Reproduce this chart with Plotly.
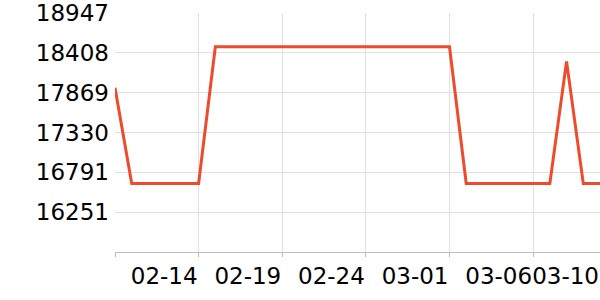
import plotly.graph_objects as go
import pandas as pd

dates = pd.date_range("2023-02-09", "2023-03-10", freq="D").strftime("%Y-%m-%d").tolist()
values = [17936,
          16639, 16639, 16639, 16639, 16639,
          18492, 18492, 18492, 18492, 18492, 18492, 18492, 18492,
          18492, 18492, 18492, 18492, 18492, 18492, 18492,
          16639, 16639, 16639, 16639, 16639, 16639,
          18292,
          16639, 16639]

x_tickvals = ["2023-02-09", "2023-02-14", "2023-02-19", "2023-02-24", "2023-03-01", "2023-03-06", "2023-03-10"]
x_ticktext = ["", "02-14", "02-19", "02-24", "03-01", "03-06", "03-10"]
y_tickvals = [15712, 16251, 16791, 17330, 17869, 18408, 18947]
y_ticktext = ["", "16251", "16791", "17330", "17869", "18408", "18947"]

fig = go.Figure()
fig.add_trace(go.Scatter(
    x=dates, y=values, mode="lines",
    line=dict(color="#ee4b2d", width=3),
    hoverinfo="skip",
))

fig.update_layout(
    width=600, height=300,
    margin=dict(l=115, r=0, t=10, b=48),
    paper_bgcolor="white", plot_bgcolor="white",
    showlegend=False,
    font=dict(family="DejaVu Sans", size=23, color="#000"),
)
fig.update_xaxes(
    type="date",
    range=["2023-02-09", "2023-03-10"],
    tickvals=x_tickvals, ticktext=x_ticktext,
    tickangle=0,
    ticklabelposition="outside left",
    ticklabeloverflow="allow",
    ticklabelstandoff=3,
    showgrid=True, gridcolor="#e0e0e0", gridwidth=1,
    showline=True, linecolor="#bdbdbd", linewidth=1,
    ticks="outside", ticklen=4, tickcolor="#bdbdbd",
    zeroline=False,
)
fig.update_yaxes(
    range=[15712, 18947.5],
    tickvals=y_tickvals, ticktext=y_ticktext,
    showgrid=True, gridcolor="#e0e0e0", gridwidth=1,
    showline=False,
    ticks="", ticklabelstandoff=5,
    ticklabeloverflow="allow",
    zeroline=False,
)

fig.write_html("out.html")
